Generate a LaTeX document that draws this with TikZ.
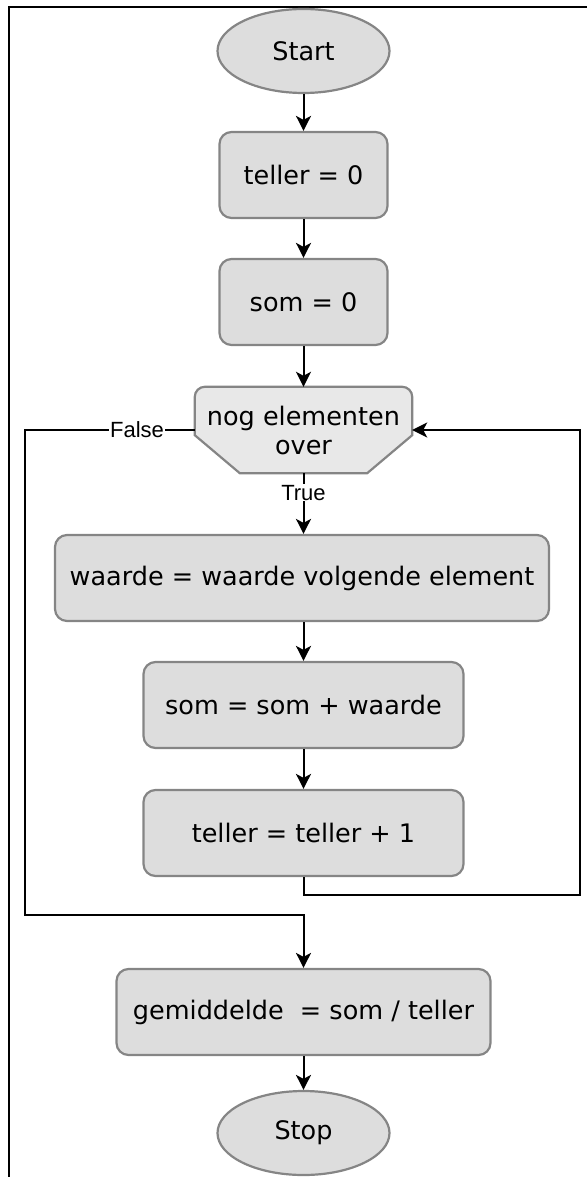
\documentclass[tikz,border=0pt]{standalone}
\usepackage{fontspec}
\setmainfont{DejaVu Sans}
\newfontfamily\lblfont{Liberation Sans}
\usetikzlibrary{arrows.meta,calc,shapes.geometric}
\definecolor{boxfill}{HTML}{DDDDDD}
\definecolor{decfill}{HTML}{E8E8E8}
\definecolor{boxline}{HTML}{858585}
\tikzset{
  mainfont/.style={font=\fontsize{25.5}{29}\selectfont},
  term/.style={ellipse,draw=boxline,fill=boxfill,line width=2.2pt,minimum width=172pt,minimum height=84pt,mainfont,inner sep=0pt},
  proc/.style={rectangle,rounded corners=12pt,draw=boxline,fill=boxfill,line width=2.2pt,minimum height=86pt,mainfont,inner sep=0pt},
  conn/.style={line width=2pt,draw=black,-{Stealth[length=15pt,width=15pt,inset=4pt]}},
  lbl/.style={font=\lblfont\fontsize{22}{24}\selectfont,fill=white,inner sep=1pt},
  frameline/.style={line width=1.5pt,draw=black}
}
\begin{document}
\begin{tikzpicture}[x=1pt,y=-1pt]
\useasboundingbox (0,0) rectangle (587,1177);
\draw[frameline] (9,1177) -- (9,7) -- (587,7);
\node[term] (start) at (303.5,51) {Start};
\node[proc,minimum width=168pt] (t0) at (303.5,175) {teller = 0};
\node[proc,minimum width=168pt] (s0) at (303.5,302) {som = 0};
\node[inner sep=0pt,minimum width=217pt,minimum height=86pt] (dec) at (303.5,430) {};
\draw[draw=boxline,fill=decfill,line width=2.2pt]
  ($(dec.south west)+(45,0)$) -- ($(dec.south west)+(0,-38)$)
  [rounded corners=10pt] -- (dec.north west) -- (dec.north east)
  [sharp corners] -- ($(dec.south east)+(0,-38)$) -- ($(dec.south east)+(-45,0)$) -- cycle;
\node[align=center,mainfont,inner sep=0pt] (dectext) at (dec.center) {nog elementen\\over};
\node[proc,minimum width=494pt] (wa) at (302,578) {waarde = waarde volgende element};
\node[proc,minimum width=320pt] (sw) at (303.5,705) {som = som + waarde};
\node[proc,minimum width=320pt] (t1) at (303.5,833) {teller = teller + 1};
\node[proc,minimum width=374pt] (gem) at (303.5,1012) {gemiddelde\ \ = som / teller};
\node[term] (stop) at (303.5,1133) {Stop};
\coordinate (fa) at (25,915);
\coordinate (lb) at (580,895);
\draw[conn] (start) -- (t0);
\draw[conn] (t0) -- (s0);
\draw[conn] (s0) -- (dec.north);
\draw[conn] (dec.south) -- node[lbl,pos=0.32]{True} (dec.south |- wa.north);
\draw[conn] (wa.south -| t1.north) -- (sw);
\draw[conn] (sw) -- (t1);
\draw[conn] (t1.south) |- (lb) |- (dec.east);
\draw[conn] (dec.west) -| node[lbl,pos=0.17]{False} (fa) -| (gem.north);
\draw[conn] (gem) -- (stop);
\end{tikzpicture}
\end{document}
